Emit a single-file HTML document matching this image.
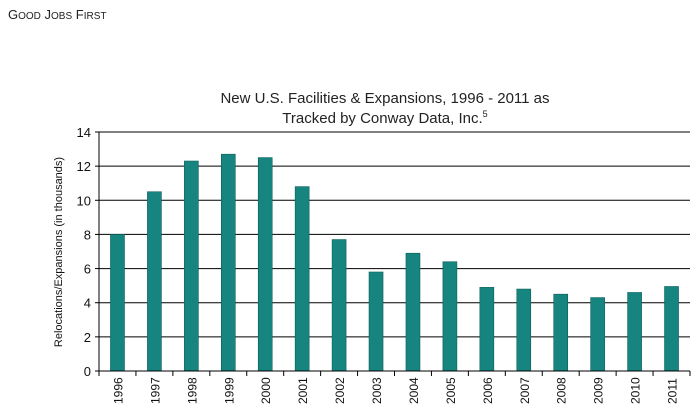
<!DOCTYPE html>
<html><head><meta charset="utf-8"><style>
body{margin:0;background:#fff;}
svg{display:block;font-family:"Liberation Sans",sans-serif;}
</style></head><body>
<svg id="c" width="700" height="420">
<text x="8" y="19" font-size="13" fill="#222">G<tspan font-size="10">OOD</tspan> J<tspan font-size="10">OBS</tspan> F<tspan font-size="10">IRST</tspan></text>
<text x="385" y="103" font-size="15" text-anchor="middle" fill="#222">New U.S. Facilities &amp; Expansions, 1996 - 2011 as</text>
<text x="385" y="123" font-size="15" text-anchor="middle" fill="#222">Tracked by Conway Data, Inc.<tspan font-size="9" dy="-6">5</tspan></text>
<text transform="translate(62,252) rotate(-90)" font-size="11" text-anchor="middle" fill="#111">Relocations/Expansions (in thousands)</text>
<g id="g"></g>
</svg>
<script>
const categories=["1996","1997","1998","1999","2000","2001","2002","2003","2004","2005","2006","2007","2008","2009","2010","2011"];
const values=[8.0,10.5,12.3,12.7,12.5,10.8,7.7,5.8,6.9,6.4,4.9,4.8,4.5,4.3,4.6,4.95];
const yTicks=[0,2,4,6,8,10,12,14];
const X0=99,X1=690,Y0=371,Y1=132,YMAX=14;
const bw=(X1-X0)/categories.length;
const y=v=>Y0-(v/YMAX)*(Y0-Y1);
const xc=i=>X0+bw*(i+0.5);
const g=document.getElementById('g');
const NS='http://www.w3.org/2000/svg';
function mk(t,a){const e=document.createElementNS(NS,t);for(const k in a)e.setAttribute(k,a[k]);g.appendChild(e);return e;}
yTicks.forEach(v=>{
 if(v>0){const l=mk('line',{x1:X0,x2:X1,y1:y(v),y2:y(v),stroke:'#000','stroke-width':1});
 
 }
 const tk=mk('line',{x1:X0-4,x2:X0,y1:y(v),y2:y(v),stroke:'#000'});
 
 
 const t=mk('text',{x:X0-8,y:y(v)+5,'font-size':13,'text-anchor':'end',fill:'#111'});t.textContent=v;
 
 
});
values.forEach((v,i)=>{
 const r=mk('rect',{x:xc(i)-7,y:y(v),width:14,height:Y0-y(v),fill:'#168580',stroke:'#0d5e5a','stroke-width':0.6});
 
 
 const t=mk('text',{transform:`translate(${xc(i)+5},${404}) rotate(-90)`,'font-size':12,fill:'#111'});t.textContent=categories[i];
 
 
});
for(let i=0;i<=categories.length;i++){
 const tk=mk('line',{x1:X0+bw*i,x2:X0+bw*i,y1:Y0,y2:Y0+5,stroke:'#000'});
 
 
}
const ya=mk('line',{x1:X0,x2:X0,y1:Y1,y2:Y0,stroke:'#000'});


const xa=mk('line',{x1:X0,x2:X1,y1:Y0,y2:Y0,stroke:'#000'});


</script>
</body></html>
